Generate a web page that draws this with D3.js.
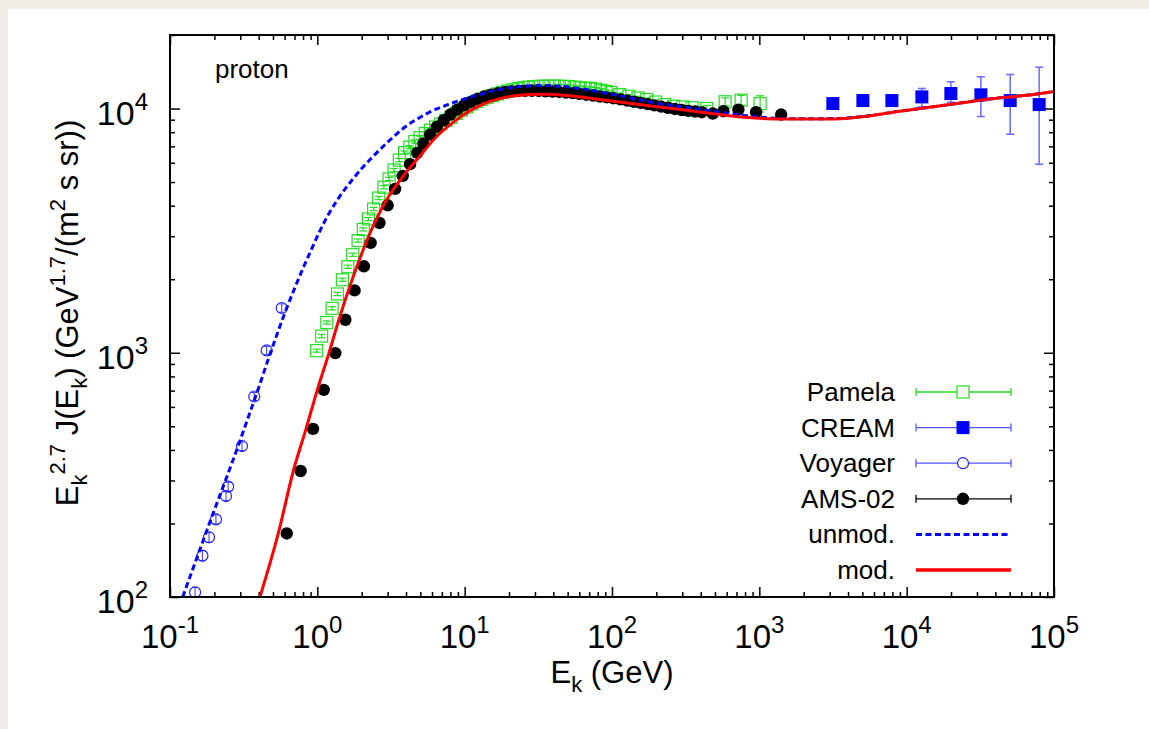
<!DOCTYPE html>
<html>
<head>
<meta charset="utf-8">
<script src="https://cdn.jsdelivr.net/npm/d3@7"></script>
<style>
  html, body { margin: 0; padding: 0; background: #f1eee8; }
  svg { display: block; }
  text { font-family: "Liberation Sans", Arial, Helvetica, sans-serif; fill: #000; }
</style>
</head>
<body>
<svg id="chart" width="1149" height="729"></svg>
<script>
// ---- data ----
const pamelaE = [0.99,1.07,1.16,1.26,1.37,1.48,1.61,1.74,1.89,2.05,2.22,2.41,2.61,2.83,3.07,3.32,3.60,3.91,4.24,4.59,4.98,5.40,5.85,6.35,6.88,7.46,8.08,8.76,9.50,10.3,11.2,12.1,13.1,14.2,15.4,16.7,18.1,19.6,21.3,23.1,25.0,27.1,29.4,31.9,34.5,37.4,40.6,44.0,47.7,51.7,56.0,60.7,65.8,71.4,77.4,83.9,91.0,98.6,113,130,150,172,198,228,262,302,350,440,586,752,1012];
const pamelaV = [1020,1170,1330,1520,1740,1990,2250,2520,2880,3200,3530,3880,4300,4760,5150,5600,6150,6600,6950,7330,7600,7900,8150,8400,8650,8950,9200,9550,9850,10150,10450,10710,10920,11120,11300,11470,11640,11800,11930,12050,12160,12230,12290,12330,12340,12350,12350,12340,12320,12280,12230,12170,12120,12080,12000,11880,11750,11620,11400,11230,11050,10890,10630,10380,10220,10150,10070,10000,10660,10820,10480];
const pamelaErr = [15,18,20,23,26,30,34,38,43,48,53,58,65,71,77,84,92,99,104,110,114,119,122,126,130,134,138,143,148,152,157,161,164,167,170,172,175,177,179,181,182,183,184,185,185,185,185,185,185,184,183,183,182,181,180,178,176,174,171,168,166,163,159,156,153,152,151,300,400,500,800];

const creamE = [3155,5045,7940,12680,19950,31900,50440,79300];
const creamV = [10480,10780,10780,11160,11520,11380,10780,10380];
const creamLo = [10200,10500,10450,10160,10600,9270,7850,5910];
const creamHi = [10750,11050,11100,12080,12860,13490,13780,14760];

const voyagerE = [0.148,0.166,0.184,0.205,0.240,0.248,0.308,0.373,0.453,0.573];
const voyagerV = [104.5,147.7,175.6,208,259,283,415,662,1022,1525];
const voyagerErr = [5,7,8,9,11,12,17,26,40,60];

const amsE = [0.62,0.77,0.935,1.105,1.325,1.55,1.79,2.07,2.30,2.64,3.0,3.37,3.80,4.26,4.77,5.25,5.82,6.47,7.2,8.0,8.9,9.9,11.0,12.2,13.6,15.1,16.8,18.7,20.8,23.1,25.7,28.6,31.8,35.4,39.4,43.8,48.7,54.1,60.2,67.0,74.5,82.8,92.1,102,114,127,141,157,175,194,216,240,267,297,330,367,407,483,570,721,951,1406];
const amsV = [182,328,488,705,997,1365,1800,2259,2817,3399,4017,4688,5300,5920,6580,7190,7820,8410,8950,9450,9900,10300,10650,10950,11200,11400,11550,11680,11760,11800,11820,11820,11800,11760,11740,11690,11630,11560,11480,11390,11300,11200,11110,11020,10900,10780,10660,10540,10420,10300,10180,10070,9960,9860,9780,9720,9660,9540,9750,9900,9660,9450];

const unmodE = [0.122,0.14,0.16,0.185,0.215,0.25,0.29,0.34,0.40,0.46,0.53,0.60,0.70,0.80,0.92,1.04,1.2,1.36,1.55,1.76,2.0,2.28,2.6,2.96,3.4,3.84,4.4,4.98,5.7,6.47,7.4,8.38,9.6,11,12.7,14.5,16.5,19,21.4,24.5,27.8,32,36.1,42,49.3,57,67.4,80,102,130,172,220,290,380,488,650,900,1300,1900,3200,5400,9000,15200,25600,43200,72600,100000];
const unmodV = [100,126,157,200,255,325,415,545,720,925,1180,1450,1830,2220,2680,3150,3720,4200,4700,5180,5680,6180,6700,7230,7800,8300,8800,9200,9620,9960,10280,10580,10860,11150,11420,11680,11900,12100,12230,12340,12400,12420,12410,12360,12270,12130,11960,11740,11410,11080,10710,10420,10180,9960,9750,9500,9280,9120,9080,9100,9320,9760,10170,10630,11070,11420,11750];

const modE = [0.408,0.543,0.687,0.838,1.0,1.2,1.4,1.755,2.28,2.96,3.84,4.98,6.47,8.38,10.9,13.5,17,21.4,27.8,36.1,49.3,67.4,102,172,290,488,800,1250,1900,3200,5400,9000,15200,25600,43200,72600,100000];
const modV = [100,182,328,488,705,998,1365,2055,3093,4237,5300,6400,7700,8800,9800,10450,10950,11250,11420,11450,11300,11060,10710,10280,9910,9510,9200,9070,9050,9070,9300,9750,10160,10620,11060,11410,11740];

const xTickExp = [-1,0,1,2,3,4,5];
const yTickExp = [2,3,4];
const legendNames = ["Pamela","CREAM","Voyager","AMS-02","unmod.","mod."];

// ---- layout ----
const margin = { top: 35, right: 95, bottom: 132, left: 170 };
const baseWidth = 1149, baseHeight = 729;
const width = baseWidth - margin.left - margin.right;
const height = baseHeight - margin.top - margin.bottom;

const svg = d3.select("#chart");

// white card on the beige page
svg.append("rect")
    .attr("x", 8).attr("y", 9)
    .attr("width", baseWidth - 8).attr("height", baseHeight - 9)
    .attr("fill", "#ffffff");

const group = svg.append("g")
    .attr("transform", `translate(${margin.left}, ${margin.top})`);

const xScale = d3.scaleLog().domain([0.1, 1e5]).range([0, width]);
const yScale = d3.scaleLog().domain([100, 20000]).range([height, 0]);

group.append("clipPath").attr("id", "plotClip")
    .append("rect").attr("width", width).attr("height", height);

// ---- ticks (inward, mirrored on all sides) ----
const xMajor = xTickExp.map(e => Math.pow(10, e));
const yMajor = yTickExp.map(e => Math.pow(10, e));
const isMajor = (v, list) => list.some(m => Math.abs(v / m - 1) < 1e-6);
const xMinor = xScale.ticks().filter(v => !isMajor(v, xMajor));
const yMinor = yScale.ticks().filter(v => !isMajor(v, yMajor));

const axes = [
    [() => d3.axisBottom(xScale), `translate(0, ${height})`, xMajor, xMinor],
    [() => d3.axisTop(xScale), "translate(0, 0)", xMajor, xMinor],
    [() => d3.axisLeft(yScale), "translate(0, 0)", yMajor, yMinor],
    [() => d3.axisRight(yScale), `translate(${width}, 0)`, yMajor, yMinor]
];
axes.forEach(([make, tr, major, minor]) => {
    [[major, -10], [minor, -5]].forEach(([vals, size]) => {
        const g = group.append("g")
            .attr("transform", tr)
            .call(make().tickValues(vals).tickSize(size).tickFormat(""));
        g.select(".domain").remove();
        g.selectAll("line").attr("stroke", "#000").attr("stroke-width", 1.5);
    });
});

// tick labels with superscripts
group.selectAll(".xlab")
    .data(xTickExp)
    .enter()
    .append("text")
    .attr("class", "xlab")
    .attr("x", d => xScale(Math.pow(10, d)))
    .attr("y", height + 51)
    .attr("text-anchor", "middle")
    .style("font-size", "33px")
    .each(function(d) {
        const t = d3.select(this);
        t.append("tspan").text("10");
        t.append("tspan").attr("dy", -15).style("font-size", "24px").text(d);
    });

group.selectAll(".ylab")
    .data(yTickExp)
    .enter()
    .append("text")
    .attr("class", "ylab")
    .attr("x", -22)
    .attr("y", d => yScale(Math.pow(10, d)) + 16)
    .attr("text-anchor", "end")
    .style("font-size", "34px")
    .each(function(d) {
        const t = d3.select(this);
        t.append("tspan").text("10");
        t.append("tspan").attr("dy", -15).style("font-size", "24px").text(d);
    });

// axis titles
const xTitle = group.append("text")
    .attr("x", width / 2)
    .attr("y", height + 86)
    .attr("text-anchor", "middle")
    .style("font-size", "31px");
xTitle.append("tspan").text("E");
xTitle.append("tspan").attr("dy", 9).style("font-size", "22px").text("k");
xTitle.append("tspan").attr("dy", -9).text(" (GeV)");

const yTitle = svg.append("text")
    .attr("transform", "translate(78, 313) rotate(-90)")
    .attr("text-anchor", "middle")
    .style("font-size", "31px");
const yParts = [
    ["E", 0, 31], ["k", 9, 22], ["2.7", -22, 22], [" J(E", 13, 31], ["k", 9, 22],
    [") (GeV", -9, 31], ["1.7", -13, 22], ["/(m", 13, 31], ["2", -13, 22], [" s sr))", 13, 31]
];
yParts.forEach(([s, dy, fs]) => {
    yTitle.append("tspan").attr("dy", dy).style("font-size", fs + "px").text(s);
});

group.append("text")
    .text("proton")
    .attr("x", 45)
    .attr("y", 43)
    .style("font-size", "26px");

// ---- data layer ----
const plot = group.append("g").attr("clip-path", "url(#plotClip)");

function errorBars(E, lo, hi, color, cap, sw) {
    const g = plot.append("g").attr("stroke", color).attr("stroke-width", sw);
    E.forEach((e, i) => {
        const x = xScale(e), y1 = yScale(lo[i]), y2 = yScale(hi[i]);
        g.append("line").attr("x1", x).attr("x2", x).attr("y1", y1).attr("y2", y2);
        g.append("line").attr("x1", x - cap).attr("x2", x + cap).attr("y1", y1).attr("y2", y1);
        g.append("line").attr("x1", x - cap).attr("x2", x + cap).attr("y1", y2).attr("y2", y2);
    });
}

// Pamela: open green squares
errorBars(pamelaE, pamelaV.map((v, i) => v - pamelaErr[i]), pamelaV.map((v, i) => v + pamelaErr[i]), "#22dd22", 4, 1.2);
plot.selectAll(".pamela")
    .data(pamelaE)
    .enter()
    .append("rect")
    .attr("x", (d) => xScale(d) - 6)
    .attr("y", (d, i) => yScale(pamelaV[i]) - 6)
    .attr("width", 12).attr("height", 12)
    .attr("fill", "none")
    .attr("stroke", "#22dd22")
    .attr("stroke-width", 1.2);

// CREAM: filled blue squares
errorBars(creamE, creamLo, creamHi, "#6f6fff", 4, 1.6);
plot.selectAll(".cream")
    .data(creamE)
    .enter()
    .append("rect")
    .attr("x", d => xScale(d) - 6.5)
    .attr("y", (d, i) => yScale(creamV[i]) - 6.5)
    .attr("width", 13).attr("height", 13)
    .attr("fill", "#0000ff");

// Voyager: open blue circles
errorBars(voyagerE, voyagerV.map((v, i) => v - voyagerErr[i]), voyagerV.map((v, i) => v + voyagerErr[i]), "#3333ff", 3, 1);
plot.selectAll(".voyager")
    .data(voyagerE)
    .enter()
    .append("circle")
    .attr("cx", d => xScale(d))
    .attr("cy", (d, i) => yScale(voyagerV[i]))
    .attr("r", 5.5)
    .attr("fill", "none")
    .attr("stroke", "#2222ff")
    .attr("stroke-width", 1.2);

// AMS-02: filled black circles
plot.selectAll(".ams")
    .data(amsE)
    .enter()
    .append("circle")
    .attr("cx", d => xScale(d))
    .attr("cy", (d, i) => yScale(amsV[i]))
    .attr("r", 6.2)
    .attr("fill", "#000");

// model curves
const line = d3.line()
    .x(d => xScale(d[0]))
    .y(d => yScale(d[1]))
    .curve(d3.curveMonotoneX);

plot.append("path")
    .datum(unmodE.map((e, i) => [e, unmodV[i]]))
    .attr("d", line)
    .attr("fill", "none")
    .attr("stroke", "#0000ff")
    .attr("stroke-width", 3)
    .attr("stroke-dasharray", "6,3.5");

plot.append("path")
    .datum(modE.map((e, i) => [e, modV[i]]))
    .attr("d", line)
    .attr("fill", "none")
    .attr("stroke", "#ff0000")
    .attr("stroke-width", 3);

// ---- legend ----
const legX = 895 - margin.left, sx1 = 916 - margin.left, sx2 = 1011 - margin.left, mx = 963 - margin.left;
const legY0 = 392 - margin.top, legStep = 35.6;
const colors = ["#22dd22", "#5555ff", "#5555ff", "#000", "#0000ff", "#ff0000"];
const legend = group.append("g");
legendNames.forEach((name, i) => {
    const y = legY0 + i * legStep;
    legend.append("text")
        .text(name)
        .attr("x", legX)
        .attr("y", y + 9)
        .attr("text-anchor", "end")
        .style("font-size", "26px");
    if (i < 4) {
        const g = legend.append("g").attr("stroke", colors[i]).attr("stroke-width", 1.3);
        g.append("line").attr("x1", sx1).attr("x2", sx2).attr("y1", y).attr("y2", y);
        g.append("line").attr("x1", sx1).attr("x2", sx1).attr("y1", y - 4).attr("y2", y + 4);
        g.append("line").attr("x1", sx2).attr("x2", sx2).attr("y1", y - 4).attr("y2", y + 4);
    }
    if (i === 0) legend.append("rect").attr("x", mx - 6).attr("y", y - 6).attr("width", 12).attr("height", 12)
        .attr("fill", "#fff").attr("stroke", "#22dd22").attr("stroke-width", 1.2);
    if (i === 1) legend.append("rect").attr("x", mx - 6.5).attr("y", y - 6.5).attr("width", 13).attr("height", 13)
        .attr("fill", "#0000ff");
    if (i === 2) legend.append("circle").attr("cx", mx).attr("cy", y).attr("r", 5.5)
        .attr("fill", "#fff").attr("stroke", "#2222ff").attr("stroke-width", 1.2);
    if (i === 3) legend.append("circle").attr("cx", mx).attr("cy", y).attr("r", 6.2).attr("fill", "#000");
    if (i === 4) legend.append("line").attr("x1", sx1).attr("x2", sx2).attr("y1", y).attr("y2", y)
        .attr("stroke", "#0000ff").attr("stroke-width", 3).attr("stroke-dasharray", "6,3.5");
    if (i === 5) legend.append("line").attr("x1", sx1).attr("x2", sx2).attr("y1", y).attr("y2", y)
        .attr("stroke", "#ff0000").attr("stroke-width", 3.5);
});

// plot border on top
group.append("rect")
    .attr("width", width).attr("height", height)
    .attr("fill", "none")
    .attr("stroke", "#000")
    .attr("stroke-width", 2);
</script>
</body>
</html>
